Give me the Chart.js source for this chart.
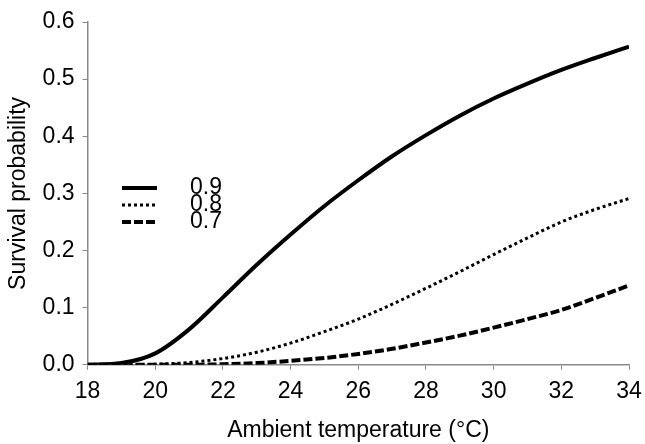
<!DOCTYPE html>
<html>
<head>
<meta charset="utf-8">
<script src="https://cdn.jsdelivr.net/npm/chart.js@4"></script>
<style>
  body { margin: 0; background: #fff; }
  #wrap { width: 645px; height: 444px; }
</style>
</head>
<body>
<div id="wrap"><canvas id="myChart"></canvas></div>
<script>
  // temperatures (degC) and survival probabilities
  const temps = [18, 19, 20, 21, 22, 23, 24, 25, 26, 27, 28, 29, 30, 31, 32, 33, 34];
  const surv09 = [0, 0.003, 0.02, 0.062, 0.118, 0.175, 0.228, 0.278, 0.323, 0.365, 0.402, 0.436, 0.466, 0.492, 0.516, 0.537, 0.557];
  const surv08 = [0, 0, 0.001, 0.004, 0.011, 0.022, 0.038, 0.058, 0.08, 0.106, 0.134, 0.163, 0.193, 0.222, 0.25, 0.272, 0.291];
  const surv07 = [0, 0, 0, 0, 0.001, 0.003, 0.007, 0.012, 0.019, 0.028, 0.039, 0.051, 0.065, 0.08, 0.096, 0.117, 0.139];
  const seriesLabels = ['0.9', '0.8', '0.7'];
  const yTicks = [0, 0.1, 0.2, 0.3, 0.4, 0.5, 0.6];
  const xTicks = [18, 20, 22, 24, 26, 28, 30, 32, 34];

  const FONT = '"Liberation Sans", Arial, sans-serif';
  const toPoints = (vals) => vals.map((v, i) => ({ x: temps[i], y: v }));

  // legend drawn inside the plot area, like the original figure
  const insideLegend = {
    id: 'insideLegend',
    afterDraw(chart) {
      const ctx = chart.ctx;
      const rows = [188, 205, 222];
      ctx.save();
      chart.data.datasets.forEach((ds, i) => {
        ctx.beginPath();
        ctx.lineWidth = ds.borderWidth;
        ctx.strokeStyle = '#000';
        ctx.lineCap = ds.borderCapStyle || 'butt';
        ctx.setLineDash(ds.borderDash || []);
        ctx.moveTo(122, rows[i]);
        ctx.lineTo(157, rows[i]);
        ctx.stroke();
        ctx.setLineDash([]);
        ctx.fillStyle = '#000';
        ctx.font = '23px ' + FONT;
        ctx.textBaseline = 'middle';
        ctx.fillText(ds.label, 190, rows[i]);
      });
      ctx.restore();
    }
  };

  function createChart() {
    const ctx = document.getElementById('myChart').getContext('2d');
    new Chart(ctx, {
      type: 'line',
      data: {
        datasets: [
          { label: seriesLabels[0], data: toPoints(surv09), borderColor: '#000', borderWidth: 4, pointRadius: 0, cubicInterpolationMode: 'monotone' },
          { label: seriesLabels[1], data: toPoints(surv08), borderColor: '#000', borderWidth: 3, borderDash: [3, 3], pointRadius: 0, cubicInterpolationMode: 'monotone' },
          { label: seriesLabels[2], data: toPoints(surv07), borderColor: '#000', borderWidth: 4, borderDash: [9, 3], pointRadius: 0, cubicInterpolationMode: 'monotone' }
        ]
      },
      options: {
        responsive: true,
        maintainAspectRatio: false,
        animation: false,
        layout: { padding: { top: 22, right: 0, left: 0, bottom: 0 } },
        plugins: { legend: { display: false }, tooltip: { enabled: false } },
        scales: {
          x: {
            type: 'linear',
            min: 18, max: 34,
            afterBuildTicks: (s) => { s.ticks = xTicks.map(v => ({ value: v })); },
            afterFit: (s) => { s.paddingRight = 16; },
            border: { color: '#8a8a8a', width: 1.5 },
            grid: { drawOnChartArea: false, drawTicks: true, tickLength: 5, color: '#8a8a8a' },
            ticks: { color: '#000', font: { size: 23, family: FONT }, padding: 8, maxRotation: 0 },
            title: { display: true, text: 'Ambient temperature (\u00B0C)', color: '#000', font: { size: 23, family: FONT }, padding: { top: 3, bottom: 0 } }
          },
          y: {
            min: 0, max: 0.6,
            afterBuildTicks: (s) => { s.ticks = yTicks.map(v => ({ value: v })); },
            border: { color: '#8a8a8a', width: 1.5 },
            grid: { drawOnChartArea: false, drawTicks: true, tickLength: 5, color: '#8a8a8a' },
            ticks: { color: '#000', font: { size: 23, family: FONT }, padding: 8, callback: (v) => v.toFixed(1) },
            title: { display: true, text: 'Survival probability', color: '#000', font: { size: 23, family: FONT }, padding: { top: 5, bottom: 2 } }
          }
        }
      },
      plugins: [insideLegend]
    });
  }

  createChart();
</script>
</body>
</html>
